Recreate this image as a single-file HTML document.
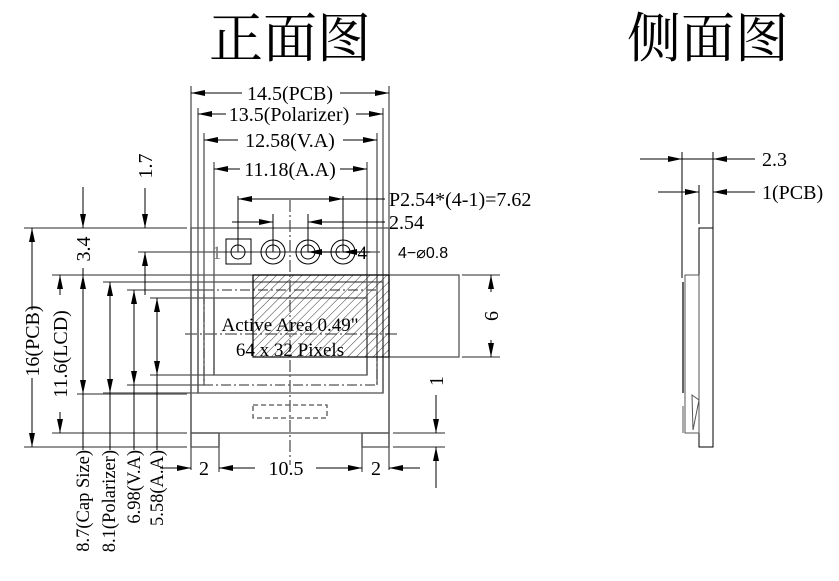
<!DOCTYPE html>
<html><head><meta charset="utf-8"><style>
html,body{margin:0;padding:0;background:#fff}
svg{display:block}
text{font-family:"Liberation Serif","Noto Serif CJK SC",serif;fill:#000}
</style></head><body>
<svg width="839" height="581" viewBox="0 0 839 581" xmlns="http://www.w3.org/2000/svg">
<defs>
<marker id="a" viewBox="0 0 14 6" refX="14" refY="3" markerWidth="14" markerHeight="6" orient="auto-start-reverse" markerUnits="userSpaceOnUse"><path d="M0,0 L14,3 L0,6 z" fill="#000"/></marker>
<pattern id="h" width="6" height="6" patternUnits="userSpaceOnUse" patternTransform="rotate(45)"><line x1="0" y1="0" x2="0" y2="6" stroke="#000" stroke-width="0.8"/></pattern>
</defs>
<text x="290" y="57" font-size="54" text-anchor="middle" style="font-family:'Noto Serif CJK SC','Noto Sans CJK SC',serif">正面图</text>
<text x="708" y="57" font-size="54" text-anchor="middle" style="font-family:'Noto Serif CJK SC','Noto Sans CJK SC',serif">侧面图</text>

<g stroke="#555" stroke-width="1.3" fill="none">
<line x1="191" y1="86" x2="191" y2="470"/><line x1="389" y1="86" x2="389" y2="470"/>
<line x1="198" y1="108" x2="198" y2="393"/><line x1="383" y1="108" x2="383" y2="393"/>
<line x1="204" y1="133" x2="204" y2="385"/><line x1="377" y1="133" x2="377" y2="385"/>
<line x1="214" y1="162" x2="214" y2="375"/><line x1="367" y1="162" x2="367" y2="375"/>
<line x1="219" y1="433" x2="219" y2="472"/><line x1="362" y1="433" x2="362" y2="472"/>
<rect x="191" y="228" width="198" height="205"/>
<rect x="191" y="433" width="28" height="14"/><rect x="362" y="433" width="27" height="14"/>
<line x1="24" y1="228" x2="187" y2="228"/>
<line x1="52" y1="275" x2="389" y2="275"/>
<line x1="103" y1="282" x2="198" y2="282"/>
<line x1="127" y1="290" x2="204" y2="290"/>
<line x1="150" y1="298" x2="214" y2="298"/>
<line x1="150" y1="375" x2="214" y2="375"/>
<line x1="127" y1="385" x2="204" y2="385"/>
<line x1="103" y1="393" x2="198" y2="393"/>
<line x1="77" y1="394" x2="187" y2="394"/>
<line x1="52" y1="433" x2="187" y2="433"/>
<line x1="24" y1="447" x2="187" y2="447"/>
<line x1="138" y1="252" x2="380" y2="252"/>
<line x1="393" y1="433" x2="445" y2="433"/><line x1="393" y1="447" x2="445" y2="447"/>
<line x1="462" y1="275" x2="500" y2="275"/><line x1="462" y1="357" x2="500" y2="357"/>
<rect x="198" y="282" width="185" height="111"/>
<rect x="204" y="290" width="173" height="95" stroke-dasharray="10,3,2,3"/>
<rect x="214" y="298" width="153" height="77"/>
<rect x="253" y="275" width="206" height="82"/>
<rect x="253" y="405" width="74" height="13" stroke-dasharray="5,3"/>
<line x1="185" y1="334" x2="400" y2="334" stroke-dasharray="12,3,2,3"/>
<line x1="290" y1="200" x2="290" y2="465" stroke-dasharray="12,3,2,3"/>
</g>
<rect x="253" y="275" width="136" height="82" fill="url(#h)" stroke="#000"/>
<text x="290" y="331" font-size="19" text-anchor="middle">Active Area 0.49"</text>
<text x="290" y="356" font-size="19" text-anchor="middle">64 x 32 Pixels</text>

<g stroke="#000" stroke-width="1" fill="none">
<rect x="226" y="239" width="25" height="25"/>
<circle cx="238" cy="252" r="7"/>
<circle cx="273" cy="252" r="12"/><circle cx="273" cy="252" r="7"/>
<circle cx="308" cy="252" r="12"/><circle cx="308" cy="252" r="7"/>
<circle cx="343" cy="252" r="12"/><circle cx="343" cy="252" r="7"/>
<line x1="238" y1="196" x2="238" y2="252"/>
<line x1="273" y1="214" x2="273" y2="252"/>
<line x1="308" y1="214" x2="308" y2="252"/>
<line x1="343" y1="196" x2="343" y2="252"/>
</g>
<text x="212" y="259" font-size="19" style="fill:#777">1</text>
<text x="367" y="259" font-size="19" text-anchor="end">4</text>
<text x="398" y="258" font-size="16" style="font-family:'Liberation Sans',sans-serif">4−⌀0.8</text>

<g stroke="#000" stroke-width="1" fill="none">
<line x1="191" y1="93" x2="242" y2="93" marker-start="url(#a)"/><line x1="340" y1="93" x2="389" y2="93" marker-end="url(#a)"/>
<line x1="198" y1="114" x2="226" y2="114" marker-start="url(#a)"/><line x1="356" y1="114" x2="383" y2="114" marker-end="url(#a)"/>
<line x1="204" y1="140" x2="238" y2="140" marker-start="url(#a)"/><line x1="343" y1="140" x2="377" y2="140" marker-end="url(#a)"/>
<line x1="214" y1="169" x2="240" y2="169" marker-start="url(#a)"/><line x1="340" y1="169" x2="367" y2="169" marker-end="url(#a)"/>
<line x1="238" y1="199" x2="343" y2="199" marker-start="url(#a)" marker-end="url(#a)"/><line x1="343" y1="199" x2="385" y2="199"/>
<line x1="232" y1="222" x2="273" y2="222" marker-end="url(#a)"/><line x1="385" y1="222" x2="308" y2="222" marker-end="url(#a)"/>
<line x1="340" y1="252" x2="308" y2="252" marker-end="url(#a)"/><line x1="370" y1="252" x2="343" y2="252" marker-end="url(#a)"/>
<line x1="32" y1="310" x2="32" y2="228" marker-end="url(#a)"/><line x1="32" y1="378" x2="32" y2="447" marker-end="url(#a)"/>
<line x1="60" y1="295" x2="60" y2="275" marker-end="url(#a)"/><line x1="60" y1="412" x2="60" y2="433" marker-end="url(#a)"/>
<line x1="83" y1="275" x2="83" y2="394" marker-start="url(#a)" marker-end="url(#a)"/><line x1="83" y1="394" x2="83" y2="450"/>
<line x1="110" y1="282" x2="110" y2="393" marker-start="url(#a)" marker-end="url(#a)"/><line x1="110" y1="393" x2="110" y2="450"/>
<line x1="134" y1="290" x2="134" y2="385" marker-start="url(#a)" marker-end="url(#a)"/><line x1="134" y1="385" x2="134" y2="450"/>
<line x1="157" y1="298" x2="157" y2="375" marker-start="url(#a)" marker-end="url(#a)"/><line x1="157" y1="375" x2="157" y2="450"/>
<line x1="83" y1="187" x2="83" y2="228" marker-end="url(#a)"/><line x1="83" y1="268" x2="83" y2="275"/>
<line x1="145" y1="188" x2="145" y2="228" marker-end="url(#a)"/><line x1="145" y1="295" x2="145" y2="252" marker-end="url(#a)"/>
<line x1="491" y1="292" x2="491" y2="275" marker-end="url(#a)"/><line x1="491" y1="340" x2="491" y2="357" marker-end="url(#a)"/>
<line x1="436" y1="395" x2="436" y2="433" marker-end="url(#a)"/><line x1="436" y1="488" x2="436" y2="447" marker-end="url(#a)"/>
<line x1="160" y1="468" x2="191" y2="468" marker-end="url(#a)"/>
<line x1="255" y1="468" x2="219" y2="468" marker-end="url(#a)"/><line x1="316" y1="468" x2="362" y2="468" marker-end="url(#a)"/>
<line x1="420" y1="468" x2="389" y2="468" marker-end="url(#a)"/>
</g>
<g font-size="20" text-anchor="middle">
<text x="290" y="100">14.5(PCB)</text>
<text x="289" y="121">13.5(Polarizer)</text>
<text x="290" y="147">12.58(V.A)</text>
<text x="290" y="176">11.18(A.A)</text>
<text x="389" y="206" text-anchor="start">P2.54*(4-1)=7.62</text>
<text x="389" y="229" text-anchor="start">2.54</text>
<text x="204" y="475">2</text><text x="286" y="475">10.5</text><text x="376" y="475">2</text>
<text transform="translate(39,341) rotate(-90)">16(PCB)</text>
<text transform="translate(67,354) rotate(-90)">11.6(LCD)</text>
<text transform="translate(90,249) rotate(-90)">3.4</text>
<text transform="translate(152,166) rotate(-90)">1.7</text>
<text transform="translate(498,316) rotate(-90)">6</text>
<text transform="translate(443,381) rotate(-90)">1</text>
</g>
<g font-size="18.5" text-anchor="end">
<text transform="translate(89,450) rotate(-90)">8.7(Cap Size)</text>
<text transform="translate(115,450) rotate(-90)">8.1(Polarizer)</text>
<text transform="translate(140,450) rotate(-90)">6.98(V.A)</text>
<text transform="translate(163,450) rotate(-90)">5.58(A.A)</text>
</g>

<g stroke="#000" stroke-width="1" fill="none">
<line x1="682" y1="152" x2="682" y2="278"/><line x1="713" y1="152" x2="713" y2="228"/>
<line x1="699" y1="185" x2="699" y2="224"/>
<line x1="640" y1="159" x2="682" y2="159" marker-end="url(#a)"/><line x1="682" y1="159" x2="713" y2="159"/><line x1="755" y1="159" x2="713" y2="159" marker-end="url(#a)"/>
<line x1="658" y1="192" x2="699" y2="192" marker-end="url(#a)"/><line x1="755" y1="192" x2="713" y2="192" marker-end="url(#a)"/>
<rect x="699" y="228" width="14" height="219"/>
<rect x="685" y="275" width="14" height="158" stroke="#555"/>
<line x1="683" y1="282" x2="683" y2="393" stroke="#666" stroke-width="2"/>
<line x1="683" y1="406" x2="683" y2="433" stroke="#555"/>
<path d="M692 395 L699 400 L693 430 Z" stroke="#555"/>
</g>
<g font-size="20"><text x="762" y="166">2.3</text><text x="762" y="199">1(PCB)</text></g>
</svg>
</body></html>
